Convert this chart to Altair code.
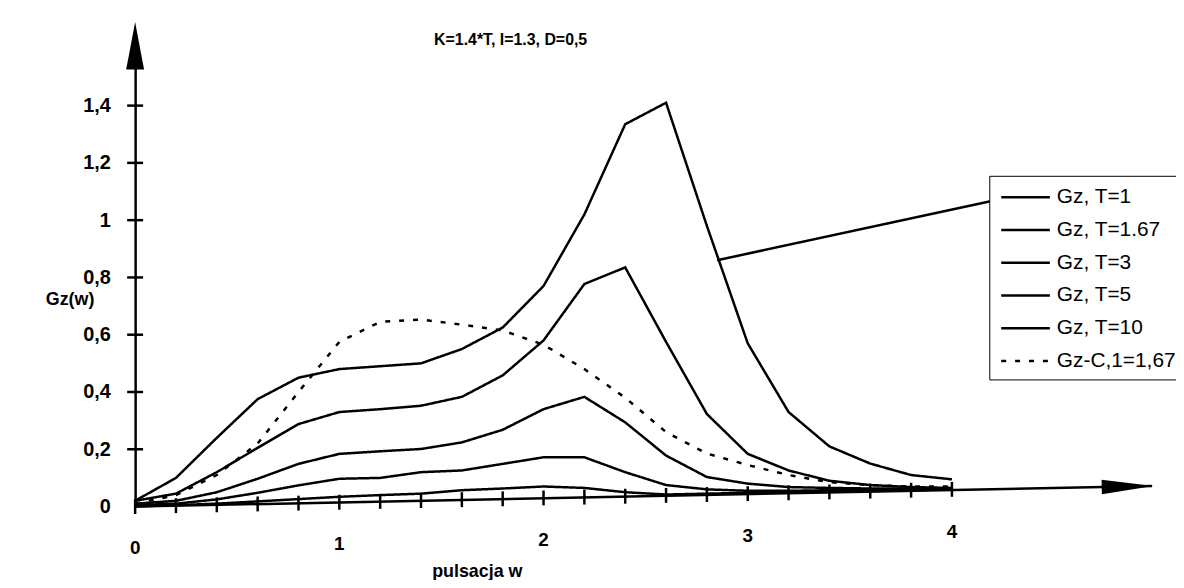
import altair as alt
import pandas as pd

# ---------------- data ----------------
w = [0.0, 0.2, 0.4, 0.6, 0.8, 1.0, 1.2, 1.4, 1.6, 1.8, 2.0,
     2.2, 2.4, 2.6, 2.8, 3.0, 3.2, 3.4, 3.6, 3.8, 4.0]

gz_t1 = [0.02, 0.10, 0.24, 0.375, 0.45, 0.48, 0.49, 0.50, 0.55, 0.625, 0.77,
         1.02, 1.335, 1.41, 0.98, 0.57, 0.33, 0.21, 0.15, 0.11, 0.095]
gz_t167 = [0.02, 0.045, 0.12, 0.205, 0.288, 0.33, 0.34, 0.352, 0.383, 0.458, 0.58,
           0.777, 0.835, 0.575, 0.323, 0.184, 0.126, 0.09, 0.075, 0.068, 0.065]
gz_t3 = [0.01, 0.02, 0.05, 0.097, 0.149, 0.184, 0.193, 0.201, 0.224, 0.268, 0.34,
         0.383, 0.294, 0.178, 0.103, 0.08, 0.068, 0.065, 0.063, 0.063, 0.063]
gz_t5 = [0.005, 0.01, 0.025, 0.048, 0.074, 0.097, 0.10, 0.12, 0.126, 0.149, 0.172,
         0.172, 0.12, 0.075, 0.06, 0.055, 0.055, 0.057, 0.058, 0.06, 0.062]
gz_t10 = [0.0, 0.005, 0.01, 0.018, 0.026, 0.034, 0.04, 0.045, 0.057, 0.063, 0.07,
          0.065, 0.05, 0.042, 0.045, 0.048, 0.05, 0.052, 0.054, 0.057, 0.06]
gz_c = [0.01, 0.04, 0.11, 0.22, 0.40, 0.575, 0.645, 0.653, 0.635, 0.615, 0.565,
        0.48, 0.38, 0.26, 0.185, 0.145, 0.11, 0.085, 0.075, 0.07, 0.07]

series_names = ["Gz, T=1", "Gz, T=1.67", "Gz, T=3", "Gz, T=5", "Gz, T=10", "Gz-C,1=1,67"]
series_values = [gz_t1, gz_t167, gz_t3, gz_t5, gz_t10, gz_c]

title_text = "K=1.4*T, I=1.3, D=0,5"
x_title = "pulsacja w"
y_title = "Gz(w)"

y_tick_values = [0, 0.2, 0.4, 0.6, 0.8, 1.0, 1.2, 1.4]
x_tick_values = w
# the hand-drawn x axis rises slightly to the right
x_tick_base = [0.0, 0.003, 0.006, 0.009, 0.012, 0.015, 0.018, 0.021, 0.024, 0.027, 0.03,
               0.033, 0.036, 0.039, 0.042, 0.045, 0.048, 0.051, 0.054, 0.057, 0.06]
x_label_values = [0, 1, 2, 3, 4]
x_label_pos = [-0.145, -0.131, -0.117, -0.102, -0.088]

# axis arrow (hand drawn) endpoints and arrow heads
x_arrow_w = [0.0, 4.98]
x_arrow_g = [0.0, 0.072]
# legend leader line
leader_w = [2.85, 4.2]
leader_g = [0.86, 1.068]

FONT = "Liberation Sans"

# ---------------- tables ----------------
rows = []
for name, vals in zip(series_names, series_values):
    for xv, yv in zip(w, vals):
        rows.append({"series": name, "w": xv, "g": yv})
df = pd.DataFrame(rows)

xs = alt.Scale(domain=[0, 5], nice=False, zero=False)
ys = alt.Scale(domain=[0, 1.63], nice=False, zero=False)

x_axis = alt.Axis(
    labels=False, ticks=False, domain=False, grid=False,
    title=x_title, titleX=344, titleY=65, titleAlign="center",
    titleBaseline="middle", titleFont=FONT, titleFontSize=18,
    titleFontWeight="bold", titleColor="black")
y_axis = alt.Axis(
    values=y_tick_values, grid=False, ticks=False,
    domain=True, domainColor="black", domainWidth=2.5,
    labelExpr="replace(format(datum.value, '.1~f'), '.', ',')",
    labelFont=FONT, labelFontSize=20, labelFontWeight="bold",
    labelColor="black", labelPadding=25,
    title=y_title, titleAngle=0, titleX=-66, titleY=262,
    titleAlign="center", titleBaseline="middle", titleFont=FONT,
    titleFontSize=18, titleFontWeight="bold", titleColor="black")

X = lambda f="w:Q": alt.X(f, scale=xs, axis=x_axis)
Y = lambda f="g:Q": alt.Y(f, scale=ys, axis=y_axis)

legend = alt.Legend(
    title=None, orient="none", legendX=860, legendY=137,
    symbolType="M-2,0L2,0", symbolSize=600, symbolStrokeWidth=2.5,
    symbolOffset=15, labelOffset=18,
    labelFont=FONT, labelFontSize=21, labelColor="black", labelLimit=0,
    strokeColor="black", fillColor="white", padding=8, rowPadding=9,
)

lines = alt.Chart(df).mark_line(strokeWidth=2.5).encode(
    x=X(), y=Y(),
    color=alt.Color("series:N", sort=series_names,
                    scale=alt.Scale(domain=series_names, range=["black"] * 6),
                    legend=legend),
    strokeDash=alt.StrokeDash("series:N", sort=series_names,
                              scale=alt.Scale(domain=series_names,
                                              range=[[1, 0]] * 5 + [[5, 9]]),
                              legend=legend),
)

# y ticks crossing the axis
yt = pd.DataFrame({"g": y_tick_values[1:], "w": [-0.039] * 7, "w2": [0.039] * 7})
y_ticks = alt.Chart(yt).mark_rule(color="black", strokeWidth=2.5).encode(
    x=X(), x2="w2:Q", y=Y())

# x ticks along the hand drawn axis
xt = pd.DataFrame({"w": x_tick_values,
                   "g": [b - 0.026 for b in x_tick_base],
                   "g2": [b + 0.026 for b in x_tick_base]})
x_ticks = alt.Chart(xt).mark_rule(color="black", strokeWidth=2.5).encode(
    x=X(), y=Y(), y2="g2:Q")

# x axis line (slanted) to the arrow
xa = pd.DataFrame({"w": [x_arrow_w[0]], "w2": [x_arrow_w[1]],
                   "g": [x_arrow_g[0]], "g2": [x_arrow_g[1]]})
x_axis_line = alt.Chart(xa).mark_rule(color="black", strokeWidth=2.5).encode(
    x=X(), x2="w2:Q", y=Y(), y2="g2:Q")

# arrow heads
xh = pd.DataFrame({"w": [4.86], "g": [0.07]})
x_head = alt.Chart(xh).mark_point(
    shape="M1,0L-1,-0.28L-1,0.28Z", size=2704, filled=True,
    color="black", opacity=1, angle=358.9).encode(x=X(), y=Y())

yh = pd.DataFrame({"w": [0.0], "g": [1.609]})
y_head = alt.Chart(yh).mark_point(
    shape="M0,-1L0.375,1L-0.375,1Z", size=2304, filled=True,
    color="black", opacity=1).encode(x=X(), y=Y())

# x tick labels along the slanted axis
xl = pd.DataFrame({"w": x_label_values, "g": x_label_pos,
                   "t": [str(v) for v in x_label_values]})
x_labels = alt.Chart(xl).mark_text(
    font=FONT, fontSize=19, fontWeight="bold", color="black",
    align="center", baseline="middle").encode(x=X(), y=Y(), text="t:N")

# leader line from the T=1 curve to the legend
ld = pd.DataFrame({"w": [leader_w[0]], "w2": [leader_w[1]],
                   "g": [leader_g[0]], "g2": [leader_g[1]]})
leader = alt.Chart(ld).mark_rule(color="black", strokeWidth=2.5).encode(
    x=X(), x2="w2:Q", y=Y(), y2="g2:Q")

# chart title
tt = pd.DataFrame({"t": [title_text]})
title = alt.Chart(tt).mark_text(
    font=FONT, fontSize=16, fontWeight="bold", color="black",
    align="left", baseline="middle").encode(
    x=alt.value(301), y=alt.value(0), text="t:N")

chart = alt.layer(
    lines, y_ticks, x_ticks, x_axis_line, x_head, y_head, x_labels, leader, title
).properties(
    width=1028, height=470,
    autosize=alt.AutoSizeParams(type="none"),
    padding={"left": 128, "top": 30, "right": 20, "bottom": 72},
    background="white",
).configure_view(stroke=None)

chart.save("out.html", embed_options={"renderer": "svg", "actions": False})
